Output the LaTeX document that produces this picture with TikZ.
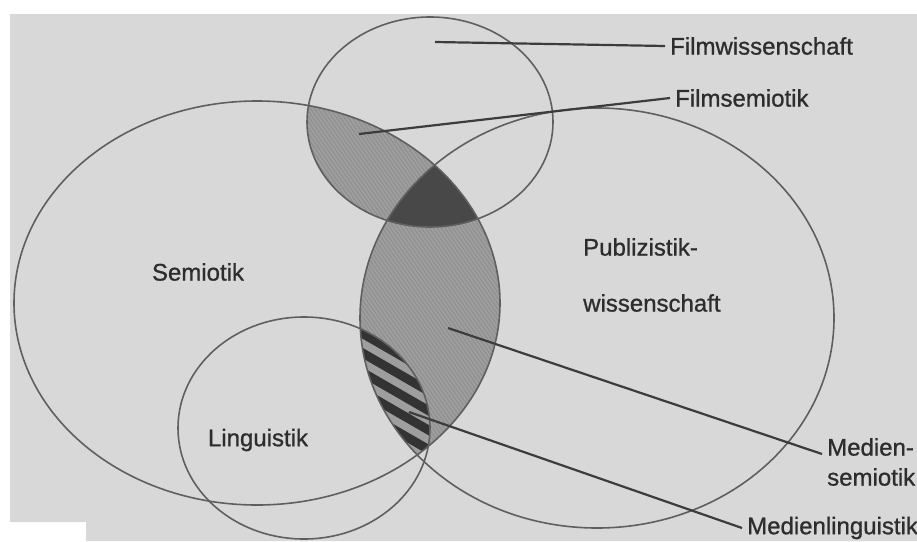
\documentclass[tikz,border=0pt]{standalone}
\usepackage{fontspec}
\setmainfont{Liberation Sans}[FakeBold=0.9]
\usetikzlibrary{patterns.meta}
\definecolor{paper}{RGB}{216,216,216}
\definecolor{ink}{RGB}{95,95,95}
\definecolor{lead}{RGB}{60,60,60}
\definecolor{txt}{RGB}{45,45,45}
\definecolor{hatch}{RGB}{158,158,158}
\definecolor{deep}{RGB}{72,72,72}
\tikzset{
  ring/.style={draw=ink, line width=1.6pt},
  lbl/.style={text=txt, font=\fontsize{24}{30}\selectfont, inner xsep=5pt, inner ysep=0pt},
  leader/.style={draw=lead, line width=2.2pt},
  fine/.style={pattern={Lines[angle=-55,distance=3.2pt,line width=0.8pt]}, pattern color=black!45},
  band/.style={draw=black!80, line width=9pt},
}
\newcommand{\filmE}{(430,122) ellipse [x radius=123, y radius=105]}
\newcommand{\semE}{(257,303) ellipse [x radius=243, y radius=202]}
\newcommand{\pubE}{(597,318) ellipse [x radius=237, y radius=210]}
\newcommand{\lingE}{(304,428) ellipse [x radius=126, y radius=111]}
\begin{document}
\begin{tikzpicture}[x=1pt, y=-1pt]
  \useasboundingbox (0,0) rectangle (917,541);
  % page
  \fill[paper] (10,14) -- (917,14) -- (917,541) -- (86,541) -- (86,522) -- (10,522) -- cycle;

  % shaded overlaps
  \begin{scope}
    \clip \semE; \clip \pubE;
    \fill[hatch] (0,0) rectangle (917,541);
    \fill[fine] (0,0) rectangle (917,541);
  \end{scope}
  \begin{scope}
    \clip \filmE; \clip \semE;
    \fill[hatch] (0,0) rectangle (917,541);
    \fill[fine] (0,0) rectangle (917,541);
  \end{scope}
  \begin{scope}
    \clip \filmE; \clip \semE; \clip \pubE;
    \fill[deep] (0,0) rectangle (917,541);
  \end{scope}
  \begin{scope}
    \clip \lingE; \clip \semE; \clip \pubE;
    \fill[hatch] (0,0) rectangle (917,541);
    \foreach \k in {0,...,11}
      \draw[band] (340,262+19.5*\k) -- (470,337+19.5*\k);
  \end{scope}

  % the four fields
  \draw[ring] \filmE;
  \draw[ring] \semE;
  \draw[ring] \pubE;
  \draw[ring] \lingE;

  % labels
  \node[lbl, anchor=west] (fw) at (665,46) {Filmwissenschaft};
  \node[lbl, anchor=west] (fs) at (670,98) {Filmsemiotik};
  \node[lbl] (sem) at (198,272) {Semiotik};
  \node[lbl, anchor=west, align=left, font=\fontsize{24}{56}\selectfont] (pub) at (578,275) {Publizistik-\\wissenschaft};
  \node[lbl] (ling) at (258,440) {Linguistik};
  \node[lbl, anchor=north west, align=left] (ms) at (822,438) {Medien-\\semiotik};
  \node[lbl, anchor=west] (ml) at (742,528) {Medienlinguistik};

  \coordinate (fwp) at (435,42);
  \coordinate (fsp) at (359,134);
  \coordinate (msp) at (448,328);
  \coordinate (mlp) at (409,412);
  \draw[leader] (fwp) -- (fw.west);
  \draw[leader] (fsp) -- (fs.west);
  \draw[leader] (msp) -- ([yshift=-16pt]ms.north west);
  \draw[leader] (mlp) -- (ml.west);
\end{tikzpicture}
\end{document}
